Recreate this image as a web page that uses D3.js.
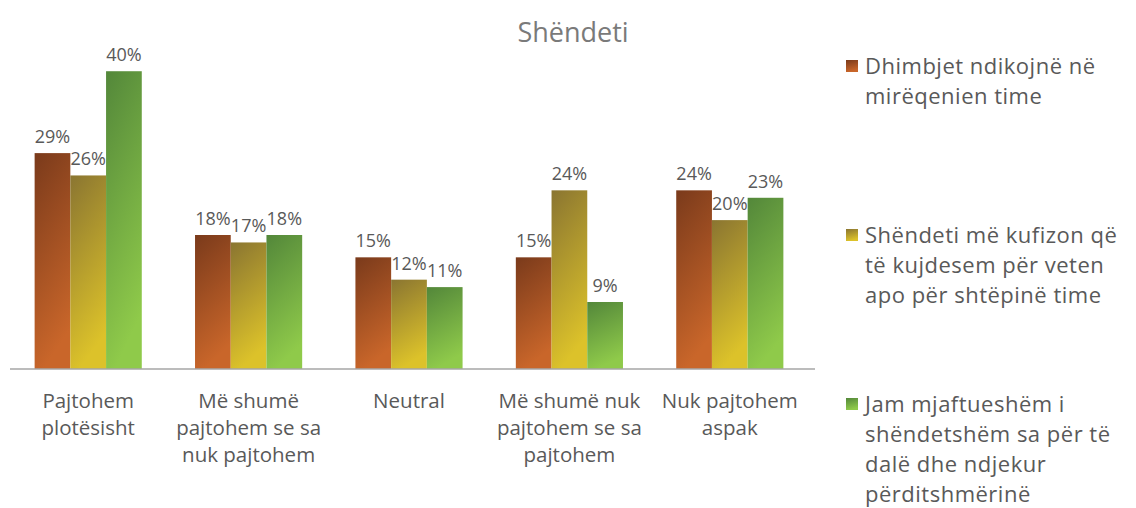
<!DOCTYPE html>
<html>
<head>
<meta charset="utf-8">
<script src="https://cdnjs.cloudflare.com/ajax/libs/d3/7.8.5/d3.min.js"></script>
<style>
  body { margin: 0; background: #fff; }
  text { font-family: "Open Sans", sans-serif; }
</style>
</head>
<body>
<script>
// categories (line breaks as in the original)
var categories = [
  "Pajtohem\nplotësisht",
  "Më shumë\npajtohem se sa\nnuk pajtohem",
  "Neutral",
  "Më shumë nuk\npajtohem se sa\npajtohem",
  "Nuk pajtohem\naspak"
];

var seriesNames = [
  "Dhimbjet ndikojnë në\nmirëqenien time",
  "Shëndeti më kufizon që\ntë kujdesem për veten\napo për shtëpinë time",
  "Jam mjaftueshëm i\nshëndetshëm sa për të\ndalë dhe ndjekur\npërditshmërinë"
];

// percent values per series
var dhimbjet    = [29, 18, 15, 15, 24];
var kufizon     = [26, 17, 12, 24, 20];
var mjaftueshem = [40, 18, 11,  9, 23];

var title = "Shëndeti";

var values = [dhimbjet, kufizon, mjaftueshem];

// gradient stops, dark top -> light bottom
var colors = [
  ["#7a3a1b", "#c9662a"],
  ["#8a7531", "#dcc22a"],
  ["#53873a", "#8fca4a"]
];

var w = 1136, h = 508;

var svg = d3.select("body").append("svg")
  .attr("width", w)
  .attr("height", h);

var defs = svg.append("defs");
colors.forEach(function (c, i) {
  var g = defs.append("linearGradient")
    .attr("id", "grad" + i)
    .attr("x1", 0).attr("y1", 0)
    .attr("x2", 0.25).attr("y2", 1);
  g.append("stop").attr("offset", "0%").attr("stop-color", c[0]);
  g.append("stop").attr("offset", "100%").attr("stop-color", c[1]);
});

var x0 = d3.scaleBand()
  .domain(categories)
  .range([8, 810]);

var gap = x0.bandwidth() * 0.166;
var x1 = d3.scaleBand()
  .domain(d3.range(seriesNames.length))
  .range([gap, x0.bandwidth() - gap]);

var y = d3.scaleLinear()
  .domain([0, 45])
  .range([369, 34]);

// title
svg.append("text")
  .attr("x", 573)
  .attr("y", 42)
  .attr("text-anchor", "middle")
  .style("font-size", "27px")
  .style("fill", "#7a7a7a")
  .text(title);

// bars
var groups = svg.append("g")
  .selectAll("g")
  .data(categories)
  .enter().append("g")
    .attr("transform", function (d) { return "translate(" + x0(d) + ",0)"; });

groups.selectAll("rect")
  .data(function (d, ci) { return values.map(function (s, si) { return {s: si, v: s[ci]}; }); })
  .enter().append("rect")
    .attr("x", function (d) { return x1(d.s); })
    .attr("width", x1.bandwidth())
    .attr("y", function (d) { return y(d.v); })
    .attr("height", function (d) { return y(0) - y(d.v); })
    .attr("fill", function (d) { return "url(#grad" + d.s + ")"; });

groups.selectAll("text.val")
  .data(function (d, ci) { return values.map(function (s, si) { return {s: si, v: s[ci]}; }); })
  .enter().append("text")
    .attr("class", "val")
    .attr("x", function (d) { return x1(d.s) + x1.bandwidth() / 2; })
    .attr("y", function (d) { return y(d.v) - 10; })
    .attr("text-anchor", "middle")
    .style("font-size", "18px")
    .style("fill", "#595959")
    .text(function (d) { return d.v + "%"; });

// baseline axis
var xAxis = d3.axisBottom(x0).tickSize(0).tickFormat("");
var axisG = svg.append("g")
  .attr("transform", "translate(0," + y(0) + ")")
  .call(xAxis);
axisG.select(".domain")
  .attr("stroke", "#a6a6a6")
  .attr("stroke-width", 1.5)
  .attr("d", "M" + 10 + ",0H" + 815);

// category labels
svg.append("g")
  .selectAll("text")
  .data(categories)
  .enter().append("text")
    .attr("x", function (d) { return x0(d) + x0.bandwidth() / 2; })
    .attr("y", 408)
    .attr("text-anchor", "middle")
    .style("font-size", "20.5px")
    .style("fill", "#595959")
    .each(function (d) {
      var t = d3.select(this);
      d.split("\n").forEach(function (line, i) {
        t.append("tspan")
          .attr("x", t.attr("x"))
          .attr("dy", i === 0 ? 0 : 27)
          .text(line);
      });
    });

// legend
var lineH = 30;
var ly = d3.scalePoint()
  .domain(d3.range(seriesNames.length))
  .range([82, 450]);

var legend = svg.append("g")
  .selectAll("g")
  .data(seriesNames)
  .enter().append("g")
    .attr("transform", function (d, i) {
      var n = d.split("\n").length;
      return "translate(846," + (ly(i) - (n - 1) * lineH / 2) + ")";
    });

legend.append("rect")
  .attr("x", 0)
  .attr("y", -7)
  .attr("width", 12)
  .attr("height", 12)
  .attr("fill", function (d, i) { return "url(#grad" + i + ")"; });

legend.append("text")
  .attr("x", 19)
  .attr("y", 7)
  .style("font-size", "22px")
  .style("letter-spacing", "0.5px")
  .style("fill", "#595959")
  .each(function (d) {
    var t = d3.select(this);
    d.split("\n").forEach(function (line, i) {
      t.append("tspan")
        .attr("x", 19)
        .attr("dy", i === 0 ? 0 : lineH)
        .text(line);
    });
  });
</script>
</body>
</html>
